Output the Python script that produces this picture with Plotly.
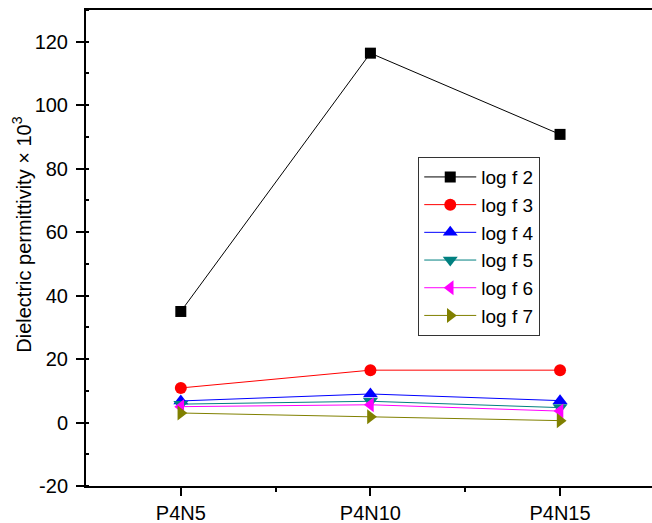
import plotly.graph_objects as go

categories = ["P4N5", "P4N10", "P4N15"]
series_names = ["log f 2", "log f 3", "log f 4", "log f 5", "log f 6", "log f 7"]
log_f2 = [35.0, 116.4, 90.8]
log_f3 = [10.9, 16.5, 16.5]
log_f4 = [6.8, 9.0, 6.9]
log_f5 = [5.8, 6.7, 4.7]
log_f6 = [5.0, 5.6, 3.6]
log_f7 = [3.0, 1.8, 0.6]
y_ticks = [-20, 0, 20, 40, 60, 80, 100, 120]
y_tick_labels = ["-20", "0", "20", "40", "60", "80", "100", "120"]

series_values = [log_f2, log_f3, log_f4, log_f5, log_f6, log_f7]
colors = ["#000000", "#FF0000", "#0000FF", "#008080", "#FF00FF", "#808000"]
symbols = ["square", "circle", "triangle-up", "triangle-down", "triangle-left", "triangle-right"]
sizes = [11, 12, 13, 13, 13, 13]

FONT = "Liberation Sans, Arial, Helvetica, sans-serif"

fig = go.Figure()
for name, vals, c, s, sz in zip(series_names, series_values, colors, symbols, sizes):
    fig.add_trace(go.Scatter(
        x=list(range(len(categories))), y=vals, name=name, mode="lines+markers",
        line=dict(color=c, width=1),
        marker=dict(symbol=s, size=sz, color=c, line=dict(width=0)),
    ))

fig.update_layout(
    width=652, height=523,
    margin=dict(l=86, r=0, t=10, b=37),
    paper_bgcolor="white", plot_bgcolor="white",
    font=dict(family=FONT, size=19, color="black"),
    showlegend=True,
    legend=dict(
        x=0.587, y=0.691, xanchor="left", yanchor="top",
        bordercolor="#333333", borderwidth=1, bgcolor="white",
        font=dict(family=FONT, size=19, color="black"),
        itemwidth=52,
    ),
    annotations=[dict(
        text="Dielectric permittivity × 10<sup>3</sup>",
        x=-0.113, y=0.528, xref="paper", yref="paper",
        xanchor="center", yanchor="middle",
        textangle=-90, showarrow=False,
        font=dict(family=FONT, size=20, color="black"),
    )],
)

fig.update_xaxes(
    range=[-0.5, 2.485],
    tickmode="array", tickvals=list(range(len(categories))), ticktext=categories,
    showline=True, linecolor="black", linewidth=2, mirror=True,
    ticks="outside", ticklen=8, tickwidth=2, tickcolor="black",
    minor=dict(tickvals=[0.5, 1.5], ticks="outside", ticklen=4, tickwidth=1.5, tickcolor="black"),
    showgrid=False, zeroline=False,
    tickfont=dict(family=FONT, size=20, color="black"),
)
fig.update_yaxes(
    range=[-20, 130],
    tickmode="array", tickvals=y_ticks, ticktext=y_tick_labels,
    showline=True, linecolor="black", linewidth=2, mirror=False,
    ticks="outside", ticklen=8, tickwidth=2, tickcolor="black",
    minor=dict(dtick=10, ticks="inside", ticklen=3, tickwidth=1.5, tickcolor="black"),
    showgrid=False, zeroline=False, ticklabelstandoff=4,
    tickfont=dict(family=FONT, size=20, color="black"),
)

fig.write_html("out.html", config={"displayModeBar": False},
               post_script="document.body.style.margin='0';")
